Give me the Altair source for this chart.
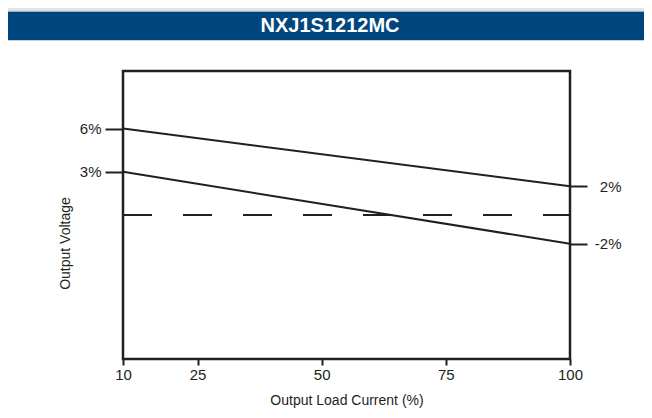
import altair as alt
import pandas as pd

# ---- data ----
title_text = "NXJ1S1212MC"
load_pct = [10, 100]
upper_pct = [6, 2]
lower_pct = [3, -2]
nominal_pct = [0, 0]
x_ticks = [10, 25, 50, 75, 100]
left_ticks = [6, 3]
right_ticks = [2, -2]

INK = "#231f20"
FONT = "Liberation Sans Narrow, Arial Narrow, Liberation Sans, sans-serif"
W, H = 447, 288
PAD = {"left": 115, "top": 63, "right": 74, "bottom": 51}

lines_df = pd.DataFrame({
    "load": load_pct * 2,
    "v": upper_pct + lower_pct,
    "series": ["upper"] * 2 + ["lower"] * 2,
})
dash_df = pd.DataFrame({"load": load_pct, "v": nominal_pct})
one = pd.DataFrame({"a": [0]})

xscale = alt.Scale(domain=[10, 100], nice=False, zero=False)
yscale = alt.Scale(domain=[-10, 10], nice=False, zero=False)

x_axis = alt.Axis(
    values=x_ticks, grid=False, domain=False, tickSize=6, tickWidth=2,
    tickColor=INK, labelFont=FONT, labelFontSize=15, labelColor=INK,
    labelPadding=2, labelFlush=False, title="Output Load Current (%)",
    titleFont=FONT, titleFontSize=14, titleFontWeight="normal", titleColor=INK,
    titleX=W / 2, titleY=41, titleBaseline="middle", titleAlign="center",
)
left_axis = alt.Axis(
    orient="left", values=left_ticks, grid=False, domain=False, tickSize=18,
    tickWidth=2, tickColor=INK, labelFont=FONT, labelFontSize=15,
    labelColor=INK, labelPadding=4, labelExpr="datum.value + '%'",
    title="Output Voltage", titleFont=FONT, titleFontSize=14,
    titleFontWeight="normal", titleColor=INK, titleX=-58, titleY=172,
    titleAngle=270, titleAlign="center", titleBaseline="middle",
)
right_axis = alt.Axis(
    orient="right", values=right_ticks, grid=False, domain=False, tickSize=17,
    tickWidth=2, tickColor=INK, labelFont=FONT, labelFontSize=15,
    labelColor=INK, labelPadding=34, labelAlign="right",
    labelExpr="datum.value + '%'", title=None,
)

lines = alt.Chart(lines_df).mark_line(color=INK, strokeWidth=2).encode(
    x=alt.X("load:Q", scale=xscale, axis=x_axis),
    y=alt.Y("v:Q", scale=yscale, axis=left_axis),
    detail="series:N",
)
dashed = alt.Chart(dash_df).mark_line(
    color=INK, strokeWidth=2, strokeDash=[29, 31]
).encode(
    x=alt.X("load:Q", scale=xscale, axis=x_axis),
    y=alt.Y("v:Q", scale=yscale, axis=right_axis),
)

# header banner
gray = alt.Chart(one).mark_rect(color="#e5e6e8").encode(
    x=alt.value(-PAD["left"]), x2=alt.value(W + PAD["right"]),
    y=alt.value(-PAD["top"]), y2=alt.value(-60.5))
topline = alt.Chart(one).mark_rect(color="#c4c5c7").encode(
    x=alt.value(-PAD["left"]), x2=alt.value(W + PAD["right"]),
    y=alt.value(-60.5), y2=alt.value(-59.3))
blue = alt.Chart(one).mark_rect(color="#00467e").encode(
    x=alt.value(-PAD["left"]), x2=alt.value(W + PAD["right"]),
    y=alt.value(-59.3), y2=alt.value(-31))
botline = alt.Chart(one).mark_rect(color="#cfd0d2").encode(
    x=alt.value(-PAD["left"]), x2=alt.value(W + PAD["right"]),
    y=alt.value(-31), y2=alt.value(-30))
title = alt.Chart(one).mark_text(
    text=title_text, font=FONT, fontSize=20, fontWeight="bold",
    color="white", align="center", baseline="alphabetic",
).encode(x=alt.value(207), y=alt.value(-38.7))

chart = alt.layer(gray, topline, blue, botline, title, lines, dashed).resolve_axis(
    y="independent"
).properties(
    width=W, height=H, padding=PAD,
    autosize=alt.AutoSizeParams(type="none"),
    background="white",
).configure_view(stroke=INK, strokeWidth=2.5)

chart.save("out.html", embed_options={"renderer": "svg", "actions": False})
